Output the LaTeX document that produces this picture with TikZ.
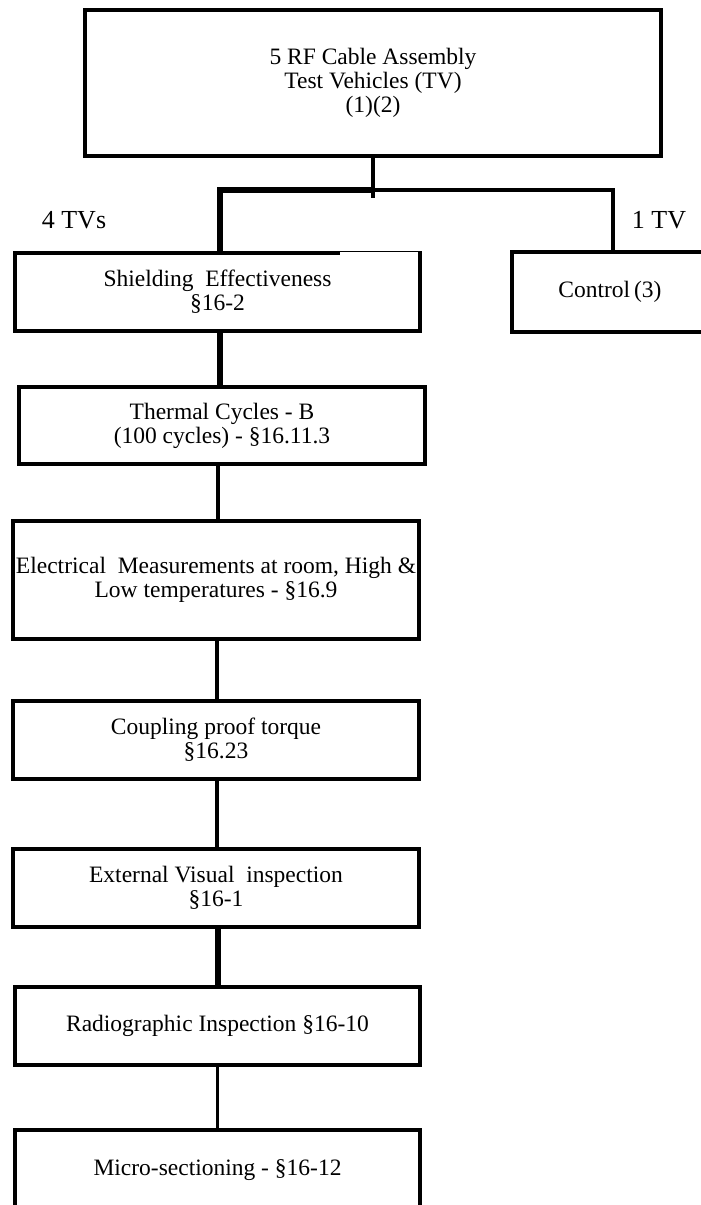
\documentclass[tikz,border=0pt]{standalone}
\usepackage{fontspec}
\setmainfont{Liberation Serif}
\begin{document}
\begin{tikzpicture}[x=1pt,y=-1pt,
  box/.style={draw, line width=3.5pt, rectangle, inner sep=0pt, outer sep=0pt,
    align=center, font=\fontsize{23.5}{24}\selectfont},
  lbl/.style={inner sep=0pt, font=\fontsize{26}{28}\selectfont},
  conn/.style={line width=4pt},
  thickconn/.style={line width=6pt},
  thinconn/.style={line width=3pt}]
\path[use as bounding box] (0,0) rectangle (701,1205);
\fill[white] (0,0) rectangle (701,1205);
\clip (0,0) rectangle (701,1205);

% boxes
\node[box, minimum width=576pt, minimum height=146pt] (top) at (373,83)
  {5 RF Cable Assembly\\Test Vehicles (TV)\\(1)(2)};
\node[box, minimum width=405pt, minimum height=78pt] (shield) at (217.5,292)
  {Shielding\ \ Effectiveness\\\S16-2};
\node[box, minimum width=196pt, minimum height=80pt] (control) at (610,292)
  {Control\,(3)};
\node[box, minimum width=406pt, minimum height=77pt] (thermal) at (222,425.5)
  {Thermal Cycles - B\\(100 cycles) - \S16.11.3};
\node[box, minimum width=406pt, minimum height=118pt] (elec) at (216,580)
  {\makebox[380pt]{Electrical\ \ Measurements at room, High \&}\\Low temperatures - \S16.9};
\node[box, minimum width=406pt, minimum height=78pt] (coup) at (216,740)
  {Coupling proof torque\\\S16.23};
\node[box, minimum width=406pt, minimum height=78pt] (ext) at (216,888)
  {External Visual\ \ inspection\\\S16-1};
\node[box, minimum width=405pt, minimum height=78pt] (radio) at (217.5,1026)
  {Radiographic Inspection \S16-10};
\node[box, minimum width=405pt, minimum height=80pt] (micro) at (217.5,1170)
  {Micro-sectioning - \S16-12};

% thin segment on the top edge of the shielding box
\draw[white, line width=4pt] (340,253) -- (418,253);
\draw[line width=1.5pt] (340,251.5) -- (418,251.5);

% labels
\node[lbl] (four) at (74,220) {4 TVs};
\node[lbl] (one) at (659,220) {1 TV};

% split
\coordinate (jc) at (373,190);
\coordinate (jl) at (220,190);
\coordinate (jr) at (613,190);
\coordinate (stub) at (373,198);
\draw[line width=3.5pt] (top.south) -- (stub);
\draw[line width=5.5pt] (jl |- shield.north) -- (jl) -- (jc);
\draw[line width=3.2pt] (jc) -- (jr) -- (jr |- control.north);

% chain
\draw[thickconn] ([xshift=2.5pt]shield.south) -- ([xshift=-2pt]thermal.north);
\draw[conn] ([xshift=-4pt]thermal.south) -- ([xshift=2pt]elec.north);
\draw[conn] ([xshift=1pt]elec.south) -- ([xshift=1pt]coup.north);
\draw[conn] ([xshift=1pt]coup.south) -- ([xshift=1pt]ext.north);
\draw[thickconn] ([xshift=2pt]ext.south) -- ([xshift=0.5pt]radio.north);
\draw[thinconn] ([xshift=-0.5pt]radio.south) -- ([xshift=-0.5pt]micro.north);
\end{tikzpicture}
\end{document}
